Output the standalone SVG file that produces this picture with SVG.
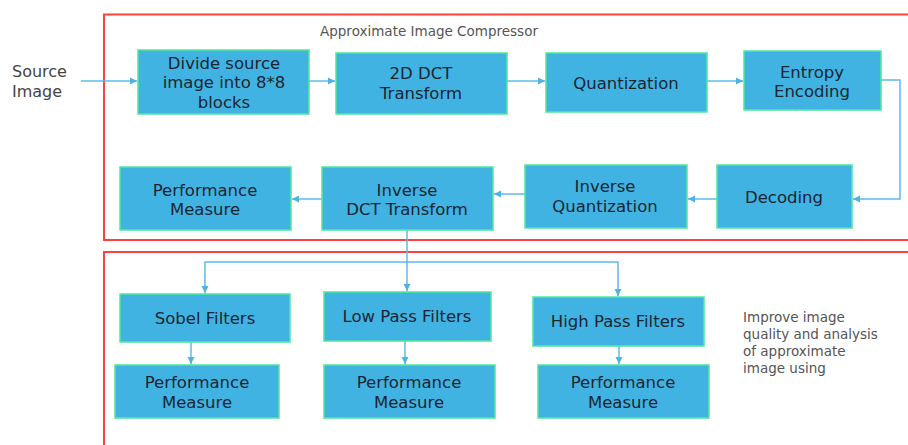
<svg xmlns="http://www.w3.org/2000/svg" width="908" height="445" viewBox="0 0 908 445">
  <defs>
    <marker id="arr" markerWidth="8" markerHeight="8" refX="7" refY="4" orient="auto" markerUnits="userSpaceOnUse">
      <path d="M0,0.5 L7,4 L0,7.5 Z" fill="#4eb2e4"/>
    </marker>
  </defs>
  <style>
    .frame { fill: none; stroke: #ff4040; stroke-width: 2; }
    .box { fill: #41b3e3; stroke: #4fe89a; stroke-width: 1.5; }
    .lbl { font-family: "DejaVu Sans", "Liberation Sans", sans-serif; font-size: 16.5px; fill: #1a2530; text-anchor: middle; }
    .note { font-family: "DejaVu Sans", "Liberation Sans", sans-serif; font-size: 13.5px; fill: #555555; }
    .src { font-family: "DejaVu Sans", "Liberation Sans", sans-serif; font-size: 16px; fill: #444444; }
    .wire { fill: none; stroke: #5cbbe8; stroke-width: 1.5; }
  </style>
  <rect width="908" height="445" fill="#ffffff"/>

  <!-- section frames -->
  <rect class="frame" x="104" y="14.5" width="820" height="225.5"/>
  <rect class="frame" x="104" y="252" width="820" height="220"/>
  <text class="note" x="320" y="36">Approximate Image Compressor</text>
  <text class="src" x="12" y="77">Source</text>
  <text class="src" x="12" y="97">Image</text>
  <g class="note">
    <text x="743" y="322">Improve image</text>
    <text x="743" y="339">quality and analysis</text>
    <text x="743" y="356">of approximate</text>
    <text x="743" y="373">image using</text>
  </g>

  <!-- connectors -->
  <g id="connectors">
    <line class="wire" x1="81" y1="81" x2="137" y2="81" marker-end="url(#arr)"/>
    <line class="wire" x1="309" y1="81" x2="335" y2="81" marker-end="url(#arr)"/>
    <line class="wire" x1="507" y1="81" x2="545" y2="81" marker-end="url(#arr)"/>
    <line class="wire" x1="707" y1="81" x2="743" y2="81" marker-end="url(#arr)"/>
    <polyline class="wire" points="881,80 900,80 900,199 853,199" marker-end="url(#arr)"/>
    <line class="wire" x1="717" y1="199" x2="688" y2="199" marker-end="url(#arr)"/>
    <line class="wire" x1="525" y1="194" x2="494" y2="194" marker-end="url(#arr)"/>
    <line class="wire" x1="322" y1="199" x2="292" y2="199" marker-end="url(#arr)"/>
    <line class="wire" x1="407" y1="230" x2="407" y2="291" marker-end="url(#arr)"/>
    <polyline class="wire" points="407,262 205,262 205,293" marker-end="url(#arr)"/>
    <polyline class="wire" points="407,262 618,262 618,296" marker-end="url(#arr)"/>
    <line class="wire" x1="191" y1="342" x2="191" y2="364" marker-end="url(#arr)"/>
    <line class="wire" x1="405" y1="341" x2="405" y2="364" marker-end="url(#arr)"/>
    <line class="wire" x1="619" y1="346" x2="619" y2="364" marker-end="url(#arr)"/>
  </g>

  <!-- compressor blocks -->
  <g id="divide">
    <rect class="box" x="138" y="50" width="171" height="64"/>
    <text class="lbl" x="224" y="69">Divide source</text>
    <text class="lbl" x="224" y="88">image into 8*8</text>
    <text class="lbl" x="224" y="108">blocks</text>
  </g>
  <g id="dct">
    <rect class="box" x="336" y="53" width="171" height="61"/>
    <text class="lbl" x="421" y="79">2D DCT</text>
    <text class="lbl" x="421" y="99">Transform</text>
  </g>
  <g id="quant">
    <rect class="box" x="546" y="53" width="161" height="59"/>
    <text class="lbl" x="626" y="89">Quantization</text>
  </g>
  <g id="entropy">
    <rect class="box" x="744" y="51" width="137" height="59"/>
    <text class="lbl" x="812" y="78">Entropy</text>
    <text class="lbl" x="812" y="97">Encoding</text>
  </g>
  <g id="decoding">
    <rect class="box" x="717" y="165" width="135" height="63"/>
    <text class="lbl" x="784" y="203">Decoding</text>
  </g>
  <g id="invquant">
    <rect class="box" x="525" y="165" width="162" height="63"/>
    <text class="lbl" x="605" y="192">Inverse</text>
    <text class="lbl" x="605" y="212">Quantization</text>
  </g>
  <g id="invdct">
    <rect class="box" x="322" y="167" width="171" height="63"/>
    <text class="lbl" x="407" y="196">Inverse</text>
    <text class="lbl" x="407" y="215">DCT Transform</text>
  </g>
  <g id="perf-main">
    <rect class="box" x="120" y="167" width="171" height="63"/>
    <text class="lbl" x="205" y="196">Performance</text>
    <text class="lbl" x="205" y="215">Measure</text>
  </g>

  <!-- filter blocks -->
  <g id="sobel">
    <rect class="box" x="120" y="294" width="170" height="48"/>
    <text class="lbl" x="205" y="324">Sobel Filters</text>
  </g>
  <g id="lowpass">
    <rect class="box" x="324" y="292" width="167" height="49"/>
    <text class="lbl" x="407" y="322">Low Pass Filters</text>
  </g>
  <g id="highpass">
    <rect class="box" x="533" y="297" width="171" height="49"/>
    <text class="lbl" x="618" y="327">High Pass Filters</text>
  </g>
  <g id="perf-sobel">
    <rect class="box" x="115" y="365" width="164" height="53"/>
    <text class="lbl" x="197" y="388">Performance</text>
    <text class="lbl" x="197" y="408">Measure</text>
  </g>
  <g id="perf-low">
    <rect class="box" x="324" y="365" width="171" height="53"/>
    <text class="lbl" x="409" y="388">Performance</text>
    <text class="lbl" x="409" y="408">Measure</text>
  </g>
  <g id="perf-high">
    <rect class="box" x="538" y="365" width="171" height="53"/>
    <text class="lbl" x="623" y="388">Performance</text>
    <text class="lbl" x="623" y="408">Measure</text>
  </g>
</svg>
